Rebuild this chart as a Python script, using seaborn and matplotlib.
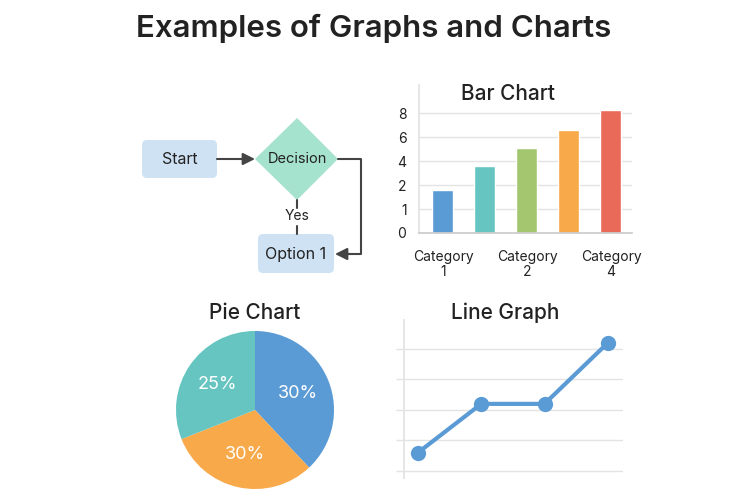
import seaborn as sns
import matplotlib.pyplot as plt
from matplotlib.patches import FancyBboxPatch, Polygon
import numpy as np

# bar chart data (heights in axis units, ticks are labelled unevenly as in the picture)
bar_categories = ["c1", "c2", "c3", "c4", "c5"]
bar_values = [2.9, 4.5, 5.7, 6.9, 8.2]
bar_colors = ["#5B9BD5", "#66C5C1", "#A3C66F", "#F8A94A", "#EA6A5A"]
bar_ytick_pos = [0, 1.6, 3.2, 4.8, 6.4, 8.0]
bar_ytick_labels = ["0", "1", "2", "4", "6", "8"]
bar_xtick_pos = [0, 2, 4]
bar_xtick_labels = ["Category\n1", "Category\n2", "Category\n4"]

pie_sizes = [38, 31, 31]
pie_labels = ["30%", "30%", "25%"]
pie_colors = ["#5B9BD5", "#F8A94A", "#66C5C1"]

# line graph data
line_x = [1, 2, 3, 4]
line_y = [0.6, 2.2, 2.2, 4.2]

sns.set_theme(style="white")
plt.rcParams['font.family'] = ['Inter', 'DejaVu Sans']
text_col = "#222222"
grid_col = "#E3E3E3"

fig = plt.figure(figsize=(7.5, 5), dpi=100)
fig.patch.set_facecolor("white")

#overlay axes in pixel coords for the flowchart and titles
ov = fig.add_axes([0, 0, 1, 1])
ov.set_xlim(0, 750)
ov.set_ylim(500, 0)
ov.axis("off")

ov.text(374, 28, "Examples of Graphs and Charts", ha="center", va="center",
        fontsize=22.5, fontweight="semibold", color=text_col)
ov.text(508, 94, "Bar Chart", ha="center", va="center", fontsize=15, fontweight="medium", color=text_col)
ov.text(255, 313, "Pie Chart", ha="center", va="center", fontsize=15, fontweight="medium", color=text_col)
ov.text(505, 313, "Line Graph", ha="center", va="center", fontsize=15, fontweight="medium", color=text_col)

# flowchart
box_fc = "#CFE2F3"
arrow_col = "#444444"
ov.add_patch(FancyBboxPatch((142, 140), 75, 38, boxstyle="round,pad=0,rounding_size=5",
                            fc=box_fc, ec="none"))
ov.text(180, 159, "Start", ha="center", va="center", fontsize=11.5, color=text_col)
ov.add_patch(Polygon([(255, 159), (297, 118), (338, 159), (297, 200)], closed=True,
                     fc="#A6E3CF", ec="none"))
ov.text(297, 159, "Decision", ha="center", va="center", fontsize=10.5, color=text_col)
ov.add_patch(FancyBboxPatch((258, 234), 76, 39, boxstyle="round,pad=0,rounding_size=5",
                            fc=box_fc, ec="none"))
ov.text(296, 254, "Option 1", ha="center", va="center", fontsize=11.5, color=text_col)

arrow_props = dict(arrowstyle="-|>,head_length=0.6,head_width=0.3", color=arrow_col, lw=1.5,
                   shrinkA=0, shrinkB=0)
ov.annotate("", xy=(255, 159), xytext=(217, 159), arrowprops=arrow_props)
ov.plot([338, 361, 361, 345], [159, 159, 254, 254], color=arrow_col, lw=1.5,
        solid_joinstyle="round")
ov.annotate("", xy=(335, 254), xytext=(350, 254), arrowprops=arrow_props)
ov.plot([297, 297], [200, 208], color=arrow_col, lw=1.5)
ov.plot([297, 297], [226, 234], color=arrow_col, lw=1.5)
ov.text(297, 216, "Yes", ha="center", va="center", fontsize=10, color=text_col)

# bar chart
axb = fig.add_axes([419 / 750, 1 - 233 / 500, 213 / 750, 148 / 500])
sns.barplot(x=bar_categories, y=bar_values, hue=bar_categories, palette=bar_colors,
            legend=False, width=0.5, saturation=1, ax=axb)
axb.set_xlim(-0.57, 4.5)
axb.set_ylim(0, 9.87)
axb.set_yticks(bar_ytick_pos, labels=bar_ytick_labels)
axb.set_xticks(bar_xtick_pos, labels=bar_xtick_labels)
axb.set_xlabel("")
axb.set_ylabel("")
axb.grid(axis="y", color=grid_col, lw=1)
axb.set_axisbelow(True)
for s in ["top", "right"]:
    axb.spines[s].set_visible(False)
axb.spines["left"].set_color(grid_col)
axb.spines["bottom"].set_color("#CCCCCC")
axb.tick_params(axis="both", length=0, labelsize=10, labelcolor=text_col)
axb.tick_params(axis="y", pad=9)
axb.tick_params(axis="x", pad=12)
for lab in axb.get_xticklabels():
    lab.set_linespacing(1.1)
axb.patch.set_alpha(0)

# pie chart
axp = fig.add_axes([175 / 750, 10 / 500, 160 / 750, 160 / 500])
wedges, texts = axp.pie(pie_sizes, colors=pie_colors, startangle=90, counterclock=False,
                        wedgeprops=dict(linewidth=0))
for w, lab in zip(wedges, pie_labels):
    ang = np.deg2rad((w.theta1 + w.theta2) / 2)
    axp.text(0.58 * np.cos(ang), 0.58 * np.sin(ang), lab, ha="center", va="center",
             color="white", fontsize=13)
axp.set_xlim(-1.0125, 1.0125)
axp.set_ylim(-1.0125, 1.0125)
axp.set_aspect("equal")

# line graph
axl = fig.add_axes([404 / 750, 22 / 500, 219 / 750, 158 / 500])
sns.lineplot(x=line_x, y=line_y, color="#5B9BD5", lw=3, marker="o", markersize=11,
             markeredgewidth=0, ax=axl)
axl.set_xlim(0.78, 4.24)
axl.set_ylim(-0.23, 4.95)
axl.set_yticks(range(5), labels=[])
axl.set_xticks([])
axl.grid(axis="y", color=grid_col, lw=1)
axl.set_axisbelow(True)
for s in ["top", "right", "bottom"]:
    axl.spines[s].set_visible(False)
axl.spines["left"].set_color(grid_col)
axl.tick_params(axis="y", length=6, color=grid_col, width=1, left=True)
axl.patch.set_alpha(0)

fig.savefig("out.png", dpi=100)
